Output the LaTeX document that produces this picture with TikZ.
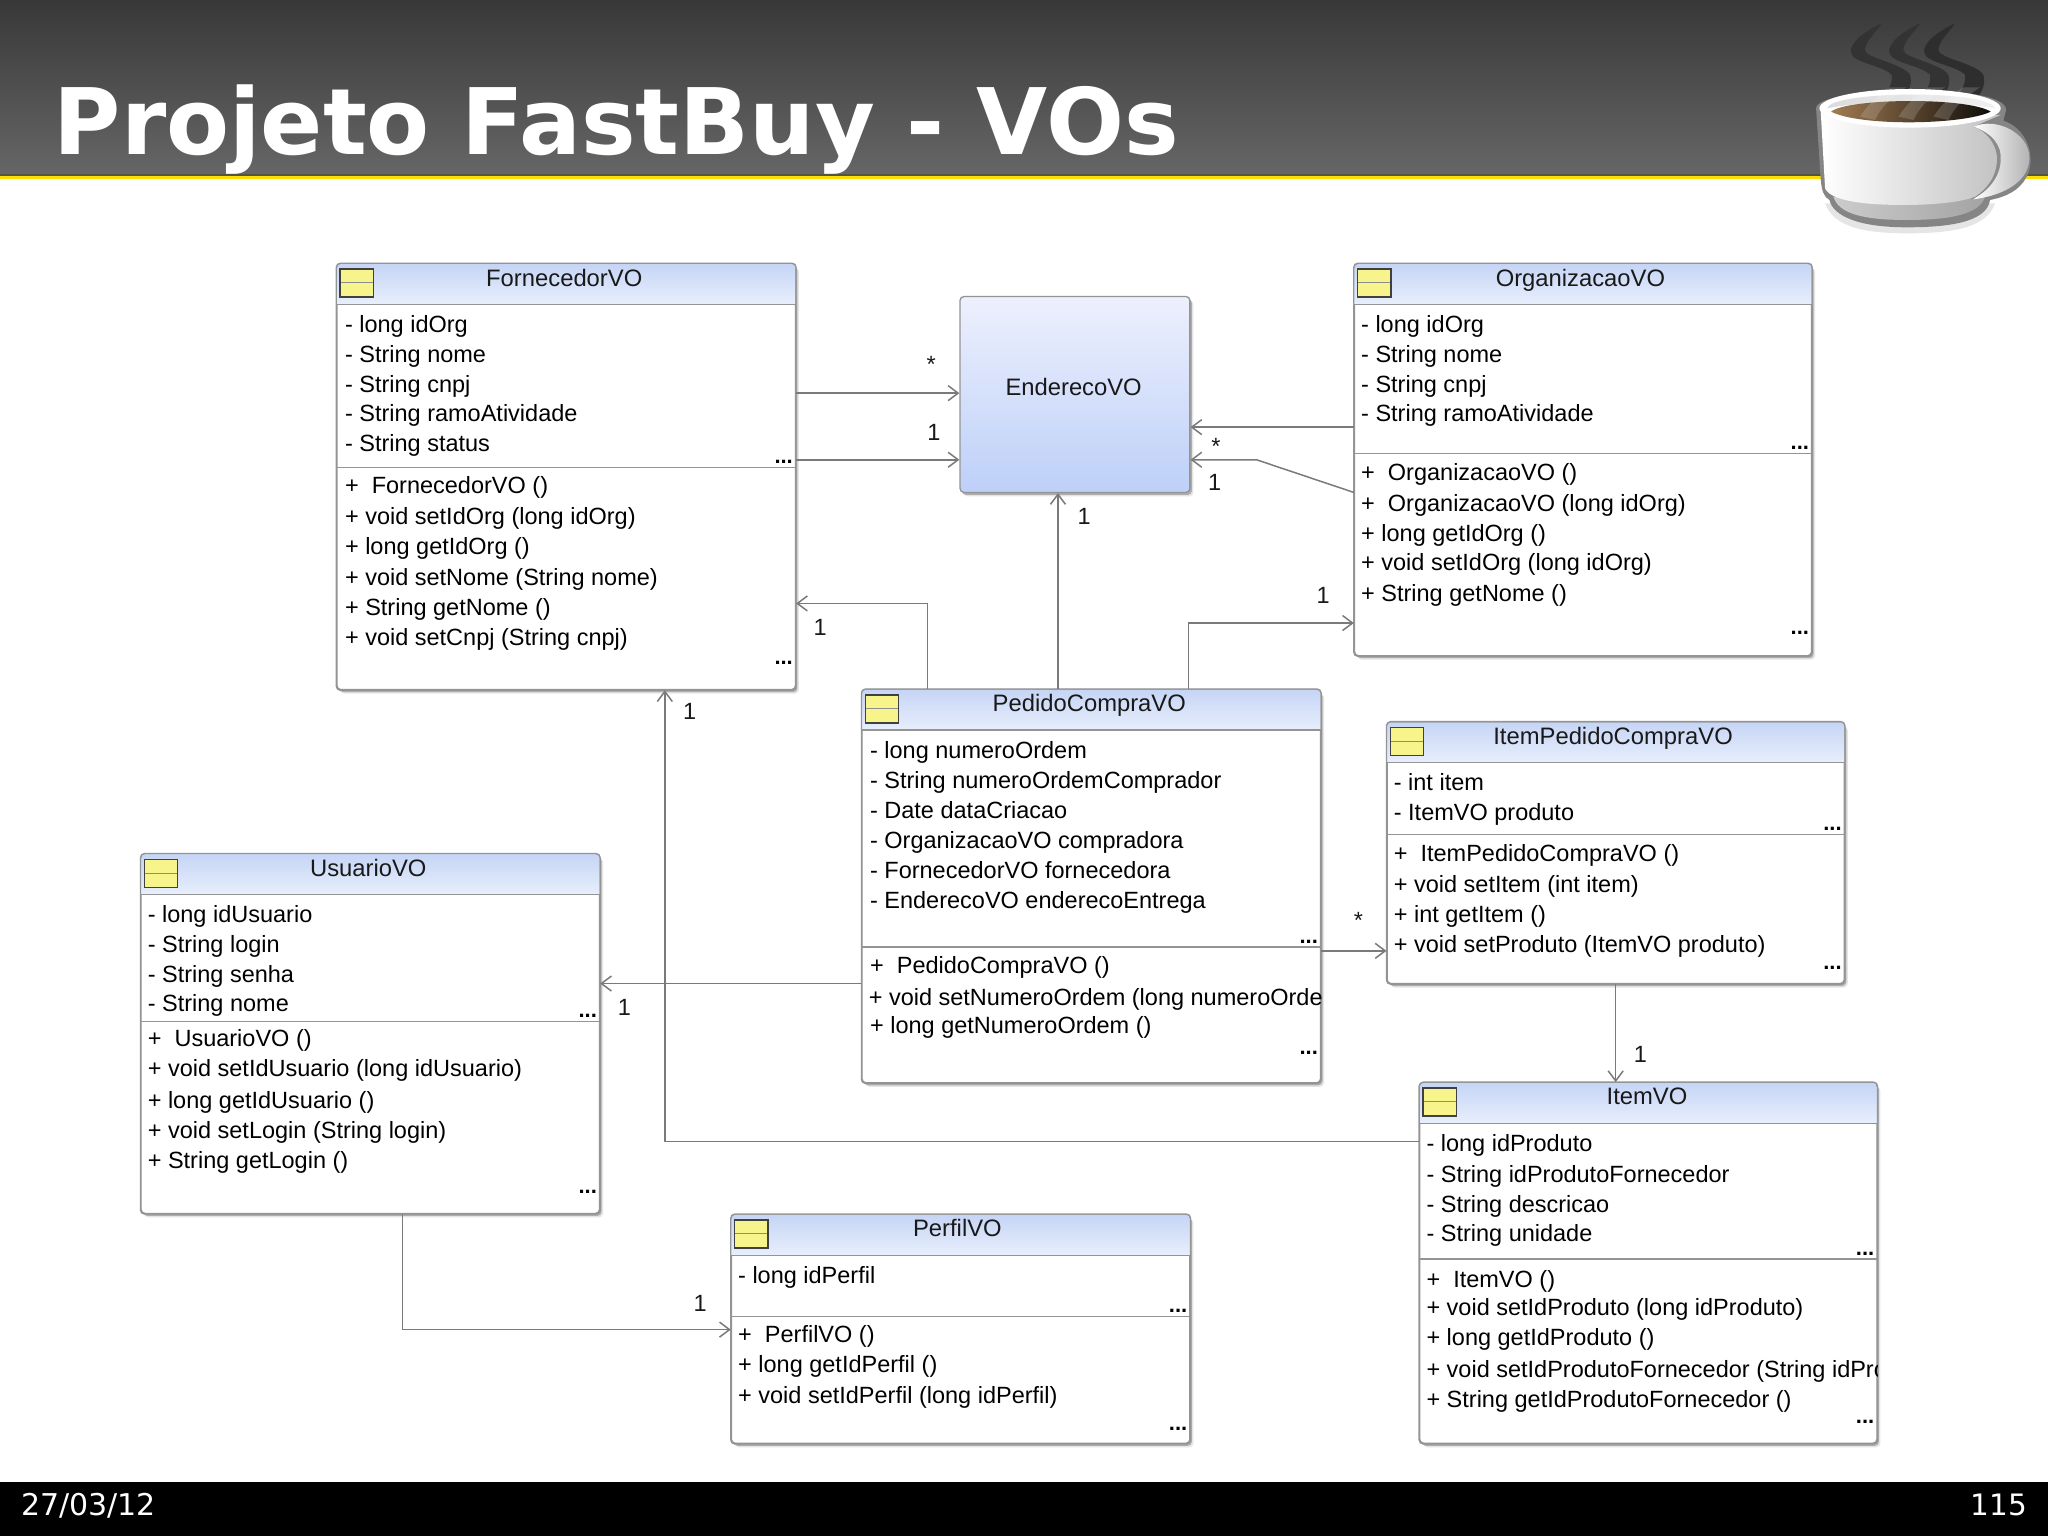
\documentclass[tikz,border=0pt]{standalone}
\usepackage{fontspec}
\setmainfont{Liberation Sans}
\newfontfamily\djv{DejaVu Sans}
\usetikzlibrary{fit,shadows,arrows.meta}
\definecolor{hdrtop}{HTML}{C6D5F6}
\definecolor{hdrbot}{HTML}{E8EFFC}
\definecolor{edge}{HTML}{7A7A7A}
\definecolor{boxline}{HTML}{949494}
\definecolor{icony}{HTML}{F8F48C}
\definecolor{endtop}{HTML}{EDF0FD}
\definecolor{endbot}{HTML}{BDD0F8}
\definecolor{cofa}{HTML}{A27C52}
\definecolor{cofb}{HTML}{6B4A2C}
\definecolor{cofc}{HTML}{0E0C0A}
\tikzset{
  softshadow/.style={drop shadow={shadow xshift=3.5pt,shadow yshift=-4pt,fill=black!10,opacity=1},drop shadow={shadow xshift=2pt,shadow yshift=-2.5pt,fill=black!32,opacity=1}},
  classbox/.style={draw=boxline,line width=1.3pt,fill=white,rounded corners=4pt,inner sep=0pt,softshadow},
  memtext/.style={anchor=base west,inner sep=0pt,font=\fontsize{23.5}{26}\selectfont,text=black},
  titletext/.style={anchor=base,inner sep=0pt,font=\fontsize{23.8}{26}\selectfont,text=black!90},
  dotstext/.style={anchor=base,inner sep=0pt,font=\fontsize{22}{24}\selectfont\bfseries},
  multlabel/.style={inner sep=0pt,font=\fontsize{23.5}{26}\selectfont,text=black!90},
  assoc/.style={draw=edge,line width=1.5pt,-{Straight Barb[length=10pt,width=15pt,line width=1.5pt]}},
}
% id x0 y0 x1 y1 header-bottom divider titlex title
\newcommand{\umlclass}[9]{%
  \node[classbox,fit={(#2,#3)(#4,#5)}] (#1) {};
  \shade[top color=hdrtop,bottom color=hdrbot] (#2,#6) [rounded corners=4pt] -- (#2,#3) -- (#4,#3) [sharp corners] -- (#4,#6) -- cycle;
  \draw[boxline,line width=1.3pt] (#2,#6) -- (#4,#6);
  \draw[boxline,line width=1.3pt] (#2,#7) -- (#4,#7);
  \draw[boxline,line width=1.3pt,rounded corners=4pt] (#1.south west) rectangle (#1.north east);
  \draw[black!75,fill=icony,line width=1.5pt] ({#2+2.5},{#3+4}) rectangle ({#2+28},{#3+25.5});
  \draw[black!45,line width=1pt] ({#2+3},{#3+14.5}) -- ({#2+27.5},{#3+14.5});
  \node[titletext] (#1-title) at (#8,{#3+17}) {#9};
}
\newcommand{\mem}[4]{\node[memtext] (#1-#3) at (#2,{#3+6.5}) {#4};}
\newcommand{\dotsat}[3]{\node[dotstext] (#1-d#3) at (#2,{#3+3}) {...};}
\begin{document}
\begin{tikzpicture}[x=1.306122pt,y=-1.306122pt]
\useasboundingbox (0,0) rectangle (1568,1176);
\fill[white] (0,0) rectangle (1568,1176);
% slide chrome
\shade[top color=black!78,bottom color=black!60] (0,0) rectangle (1568,133.5);
\fill[black!60!yellow!60!black] (0,133) rectangle (1568,134.5);
\fill[yellow!80!orange] (0,134.5) rectangle (1568,137);
\fill[black] (0,1135) rectangle (1568,1176);
\node[anchor=base west,inner sep=0pt,text=white,font=\djv\bfseries\fontsize{91.8}{100}\selectfont] (title) at (41,118) {Projeto FastBuy - VOs};
\node[anchor=base west,inner sep=0pt,text=white,font=\djv\fontsize{30}{32}\selectfont] (date) at (16,1160) {27/03/12};
\node[anchor=base east,inner sep=0pt,text=white,font=\djv\fontsize{29.5}{32}\selectfont] (page) at (1552,1160) {115};
% cup
\begin{scope}[shift={(1339.9,0)},x=0.3333pt,y=-0.3333pt]
  \fill[black!80] (395,70) .. controls (340,95) and (300,130) .. (302,155) .. controls (305,190) and (400,195) .. (425,225) .. controls (430,260) and (400,290) .. (375,320) -- (440,320) .. controls (470,290) and (490,255) .. (480,225) .. controls (460,190) and (345,175) .. (345,150) .. controls (345,125) and (375,100) .. (395,70) -- cycle;
  \fill[black!80] (510,70) .. controls (455,95) and (415,130) .. (417,155) .. controls (420,190) and (515,195) .. (540,225) .. controls (545,260) and (515,290) .. (490,320) -- (555,320) .. controls (585,290) and (605,255) .. (595,225) .. controls (575,190) and (460,175) .. (460,150) .. controls (460,125) and (490,100) .. (510,70) -- cycle;
  \fill[black!82] (615,70) .. controls (560,95) and (520,130) .. (522,155) .. controls (525,190) and (620,195) .. (645,225) .. controls (650,260) and (620,290) .. (595,320) -- (660,320) .. controls (690,290) and (710,255) .. (700,225) .. controls (680,190) and (565,175) .. (565,150) .. controls (565,125) and (595,100) .. (615,70) -- cycle;
  % halo and saucer
  \fill[black!10] (225,610) .. controls (250,680) and (340,700) .. (470,700) .. controls (620,700) and (710,680) .. (735,610) -- cycle;
  \fill[black!48] (198,325) .. controls (198,258) and (770,245) .. (768,330) -- (760,362) .. controls (830,385) and (860,470) .. (830,530) .. controls (810,570) and (770,590) .. (720,600) .. controls (710,660) and (620,682) .. (470,682) .. controls (330,682) and (250,650) .. (238,600) .. controls (220,590) and (215,570) .. (212,540) -- cycle;
  \shade[left color=black!20,right color=black!36] (250,590) .. controls (265,640) and (335,660) .. (470,660) .. controls (610,660) and (690,640) .. (705,590) -- cycle;
  % handle
  \shade[left color=white,right color=black!30] (670,380) .. controls (740,350) and (835,400) .. (838,470) .. controls (840,540) and (770,585) .. (670,598) .. controls (720,560) and (750,520) .. (748,470) .. controls (745,430) and (710,395) .. (670,380) -- cycle;
  \fill[black!45] (668,380) .. controls (730,400) and (755,440) .. (752,480) .. controls (750,530) and (715,575) .. (665,598) -- (660,590) .. controls (700,560) and (735,525) .. (735,470) .. controls (735,430) and (700,400) .. (665,388) -- cycle;
  % body
  \shade[left color=white,right color=black!24] (212,335) -- (225,565) .. controls (240,600) and (330,615) .. (460,615) .. controls (560,615) and (640,605) .. (675,590) .. controls (720,560) and (745,515) .. (740,465) .. controls (735,430) and (710,395) .. (670,380) -- (752,345) -- cycle;
  % rim
  \fill[white] (480,325) ellipse [x radius=272,y radius=58];
  \shade[left color=black!14,right color=black!6] (232,325) .. controls (240,272) and (720,268) .. (735,325) .. controls (600,300) and (350,300) .. (232,325) -- cycle;
  % coffee
  \shade[left color=cofa,middle color=cofb,right color=cofc] (243,335) .. controls (290,295) and (650,290) .. (722,335) .. controls (640,375) and (330,380) .. (243,335) -- cycle;
  % steam over the cup
  \fill[white,opacity=.16] (330,350) .. controls (350,320) and (375,290) .. (420,262) -- (470,262) .. controls (420,295) and (395,320) .. (375,360) -- cycle;
  \fill[white,opacity=.16] (445,350) .. controls (465,320) and (490,290) .. (535,262) -- (585,262) .. controls (535,295) and (510,320) .. (490,360) -- cycle;
  \fill[white,opacity=.16] (550,350) .. controls (570,320) and (595,290) .. (640,262) -- (690,262) .. controls (640,295) and (615,320) .. (595,360) -- cycle;
\end{scope}
% classes
\umlclass{forn}{258}{202}{609}{528}{233}{358}{432}{FornecedorVO}
\mem{forn}{264}{248}{- long idOrg}
\mem{forn}{264}{271}{- String nome}
\mem{forn}{264}{294}{- String cnpj}
\mem{forn}{264}{316}{- String ramoAtividade}
\mem{forn}{264}{339}{- String status}
\mem{forn}{264}{371}{+\ \ FornecedorVO ()}
\mem{forn}{264}{395}{+ void setIdOrg (long idOrg)}
\mem{forn}{264}{418}{+ long getIdOrg ()}
\mem{forn}{264}{442}{+ void setNome (String nome)}
\mem{forn}{264}{465}{+ String getNome ()}
\mem{forn}{264}{488}{+ void setCnpj (String cnpj)}
\dotsat{forn}{600}{352}
\dotsat{forn}{600}{506}
\node[draw=boxline,line width=1.3pt,rounded corners=4pt,inner sep=0pt,top color=endtop,bottom color=endbot,softshadow,fit={(735,227)(911,377)}] (ende) {};
\node[titletext] (ende-title) at (822,303) {EnderecoVO};
\umlclass{orga}{1037}{202}{1387}{502}{233}{347}{1210}{OrganizacaoVO}
\mem{orga}{1042}{248}{- long idOrg}
\mem{orga}{1042}{271}{- String nome}
\mem{orga}{1042}{294}{- String cnpj}
\mem{orga}{1042}{316}{- String ramoAtividade}
\mem{orga}{1042}{361}{+\ \ OrganizacaoVO ()}
\mem{orga}{1042}{385}{+\ \ OrganizacaoVO (long idOrg)}
\mem{orga}{1042}{408}{+ long getIdOrg ()}
\mem{orga}{1042}{430}{+ void setIdOrg (long idOrg)}
\mem{orga}{1042}{454}{+ String getNome ()}
\dotsat{orga}{1378}{341}
\dotsat{orga}{1378}{483}
\umlclass{pedi}{660}{528}{1011}{829}{559}{725}{834}{PedidoCompraVO}
\mem{pedi}{666}{574}{- long numeroOrdem}
\mem{pedi}{666}{597}{- String numeroOrdemComprador}
\mem{pedi}{666}{620}{- Date dataCriacao}
\mem{pedi}{666}{643}{- OrganizacaoVO compradora}
\mem{pedi}{666}{666}{- FornecedorVO fornecedora}
\mem{pedi}{666}{689}{- EnderecoVO enderecoEntrega}
\mem{pedi}{666}{739}{+\ \ PedidoCompraVO ()}
\begin{scope}
  \clip (pedi.south west) rectangle (pedi.north east);
  \mem{pedi}{665}{763}{+ void setNumeroOrdem (long numeroOrde}
\end{scope}
\mem{pedi}{666}{785}{+ long getNumeroOrdem ()}
\dotsat{pedi}{1002}{719}
\dotsat{pedi}{1002}{804}
\umlclass{itpe}{1062}{553}{1412}{753}{584}{639}{1235}{ItemPedidoCompraVO}
\mem{itpe}{1067}{599}{- int item}
\mem{itpe}{1067}{622}{- ItemVO produto}
\mem{itpe}{1067}{653}{+\ \ ItemPedidoCompraVO ()}
\mem{itpe}{1067}{677}{+ void setItem (int item)}
\mem{itpe}{1067}{700}{+ int getItem ()}
\mem{itpe}{1067}{723}{+ void setProduto (ItemVO produto)}
\dotsat{itpe}{1403}{633}
\dotsat{itpe}{1403}{739}
\umlclass{usua}{108}{654}{459}{929}{685}{782}{282}{UsuarioVO}
\mem{usua}{113}{700}{- long idUsuario}
\mem{usua}{113}{723}{- String login}
\mem{usua}{113}{746}{- String senha}
\mem{usua}{113}{768}{- String nome}
\mem{usua}{113}{795}{+\ \ UsuarioVO ()}
\mem{usua}{113}{818}{+ void setIdUsuario (long idUsuario)}
\mem{usua}{113}{842}{+ long getIdUsuario ()}
\mem{usua}{113}{865}{+ void setLogin (String login)}
\mem{usua}{113}{888}{+ String getLogin ()}
\dotsat{usua}{450}{776}
\dotsat{usua}{450}{911}
\umlclass{perf}{560}{930}{911}{1105}{961}{1008}{733}{PerfilVO}
\mem{perf}{565}{976}{- long idPerfil}
\mem{perf}{565}{1021}{+\ \ PerfilVO ()}
\mem{perf}{565}{1044}{+ long getIdPerfil ()}
\mem{perf}{565}{1068}{+ void setIdPerfil (long idPerfil)}
\dotsat{perf}{902}{1002}
\dotsat{perf}{902}{1092}
\umlclass{item}{1087}{829}{1437}{1105}{860}{964}{1261}{ItemVO}
\mem{item}{1092}{875}{- long idProduto}
\mem{item}{1092}{899}{- String idProdutoFornecedor}
\mem{item}{1092}{922}{- String descricao}
\mem{item}{1092}{944}{- String unidade}
\mem{item}{1092}{979}{+\ \ ItemVO ()}
\mem{item}{1092}{1001}{+ void setIdProduto (long idProduto)}
\mem{item}{1092}{1024}{+ long getIdProduto ()}
\begin{scope}
  \clip (item.south west) rectangle (item.north east);
  \mem{item}{1092}{1048}{+ void setIdProdutoFornecedor (String idPro}
\end{scope}
\mem{item}{1092}{1071}{+ String getIdProdutoFornecedor ()}
\dotsat{item}{1428}{958}
\dotsat{item}{1428}{1087}
% connectors
\coordinate (bendA) at (962,352);
\coordinate (bendB) at (710,462);
\coordinate (bendC) at (910,477);
\coordinate (bendD) at (509,874);
\coordinate (bendE) at (308,1018);
\draw[assoc] (forn.east |- 0,301) -- (ende.west |- 0,301);
\draw[assoc] (forn.east |- 0,352) -- (ende.west |- 0,352);
\draw[assoc] (orga.west |- 0,327) -- (ende.east |- 0,327);
\draw[assoc] (orga.west |- 0,377) -- (bendA) -- (ende.east |- bendA);
\draw[assoc] (810,0 |- pedi.north) -- (810,0 |- ende.south);
\draw[assoc] (bendB |- pedi.north) -- (bendB) -- (forn.east |- bendB);
\draw[assoc] (bendC |- pedi.north) -- (bendC) -- (orga.west |- bendC);
\draw[assoc] (item.west |- bendD) -- (bendD) -- (bendD |- forn.south);
\draw[assoc] (pedi.west |- 0,753) -- (usua.east |- 0,753);
\draw[assoc] (pedi.east |- 0,728) -- (itpe.west |- 0,728);
\draw[assoc] (1237,0 |- itpe.south) -- (1237,0 |- item.north);
\draw[assoc] (bendE |- usua.south) -- (bendE) -- (perf.west |- bendE);
% multiplicities
\node[multlabel] (m1) at (713,279) {*};
\node[multlabel] (m2) at (715,331) {1};
\node[multlabel] (m3) at (931,342) {*};
\node[multlabel] (m4) at (930,369) {1};
\node[multlabel] (m5) at (830,395) {1};
\node[multlabel] (m6) at (628,480) {1};
\node[multlabel] (m7) at (1013,456) {1};
\node[multlabel] (m8) at (528,545) {1};
\node[multlabel] (m9) at (478,771) {1};
\node[multlabel] (m10) at (1040,705) {*};
\node[multlabel] (m11) at (1256,807) {1};
\node[multlabel] (m12) at (536,998) {1};
\end{tikzpicture}
\end{document}
